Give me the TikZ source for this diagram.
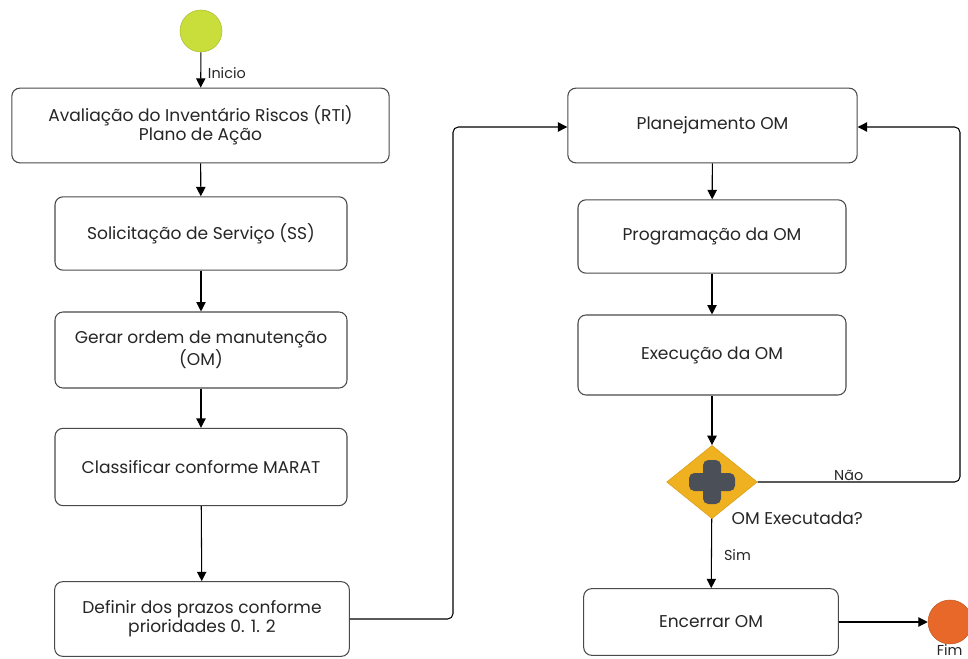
\documentclass[tikz,border=0pt]{standalone}
\usepackage{fontspec}
\setmainfont{Poppins}
\usetikzlibrary{arrows.meta,shapes.geometric}
\definecolor{startc}{HTML}{C9DE3A}
\definecolor{endc}{HTML}{E8682A}
\definecolor{gatec}{HTML}{EFB120}
\definecolor{plusc}{HTML}{4B4F57}
\definecolor{edgec}{HTML}{4A4A4A}
\definecolor{textc}{HTML}{262626}
\tikzset{
  stepbox/.style={draw=edgec, line width=0.8pt, rounded corners=6pt, fill=white,
    align=center, text=textc, font=\fontsize{12.8}{14.5}\selectfont, inner sep=0pt},
  flow/.style={draw=black, line width=0.8pt, -{Triangle[width=7pt,length=7pt]}},
  lbl/.style={font=\fontsize{10.8}{12}\selectfont, text=textc, inner sep=1pt},
}
\begin{document}
\begin{tikzpicture}[x=0.75pt,y=-0.75pt]
\useasboundingbox (0,0) rectangle (968,659);
\clip (0,0) rectangle (968,659);

% events
\node[circle, fill=startc, draw=startc!85!black, line width=0.4pt, minimum size=31.5pt, inner sep=0pt] (start) at (201,31) {};
\node[circle, fill=endc, draw=endc!85!black, line width=0.4pt, minimum size=33pt, inner sep=0pt] (fim) at (950,622) {};
\node[lbl, anchor=north east] at (964,643) {Fim};

% left column
\node[stepbox, minimum width=283pt, minimum height=56pt] (a1) at (200.5,125.5) {Avaliação do Inventário Riscos (RTI)\\Plano de Ação};
\node[stepbox, minimum width=219pt, minimum height=55pt] (a2) at (201,233.5) {Solicitação de Serviço (SS)};
\node[stepbox, minimum width=219pt, minimum height=57pt] (a3) at (201,350) {Gerar ordem de manutenção\\(OM)};
\node[stepbox, minimum width=219pt, minimum height=58pt] (a4) at (201,467) {Classificar conforme MARAT};
\node[stepbox, minimum width=221pt, minimum height=56pt] (a5) at (202,619) {Definir dos prazos conforme\\prioridades 0. 1. 2};

% right column
\node[stepbox, minimum width=217pt, minimum height=56pt] (b1) at (712.5,125.5) {Planejamento OM};
\node[stepbox, minimum width=201pt, minimum height=55pt] (b2) at (712,236.5) {Programação da OM};
\node[stepbox, minimum width=201pt, minimum height=60pt] (b3) at (712,355) {Execução da OM};
\node[diamond, fill=gatec, draw=gatec!90!black, minimum width=68pt, minimum height=55pt, inner sep=0pt] (gw) at (712,482) {};
\fill[plusc, rounded corners=4pt] (703,460) rectangle (721,504);
\fill[plusc, rounded corners=4pt] (689,473) rectangle (735,491);
\node[lbl, font=\fontsize{12.8}{14}\selectfont, anchor=west] at (730,518) {OM Executada?};
\node[stepbox, minimum width=191pt, minimum height=50pt] (b4) at (711,622) {Encerrar OM};

% connectors
\draw[flow] (start) -- node[lbl, anchor=west, pos=0.6, xshift=4pt] {Inicio} (a1);
\draw[flow] (a1) -- (a2);
\draw[flow] (a2) -- (a3);
\draw[flow] (a3) -- (a4);
\draw[flow] (a4) -- (a5);
\draw[flow, rounded corners=4pt] (a5.east) -- (453,619) -- (453,127) -- (b1.west |- 0,127);
\draw[flow] (b1) -- (b2);
\draw[flow] (b2) -- (b3);
\draw[flow] (b3) -- (gw);
\draw[flow, rounded corners=4pt] (gw.east) -- node[lbl, above, pos=0.45] {Não} (960,482) -- (960,127) -- (b1.east |- 0,127);
\draw[flow] (gw) -- node[lbl, pos=0.52, anchor=west, xshift=8pt] {Sim} (b4);
\draw[flow] (b4) -- (fim);
\end{tikzpicture}
\end{document}
